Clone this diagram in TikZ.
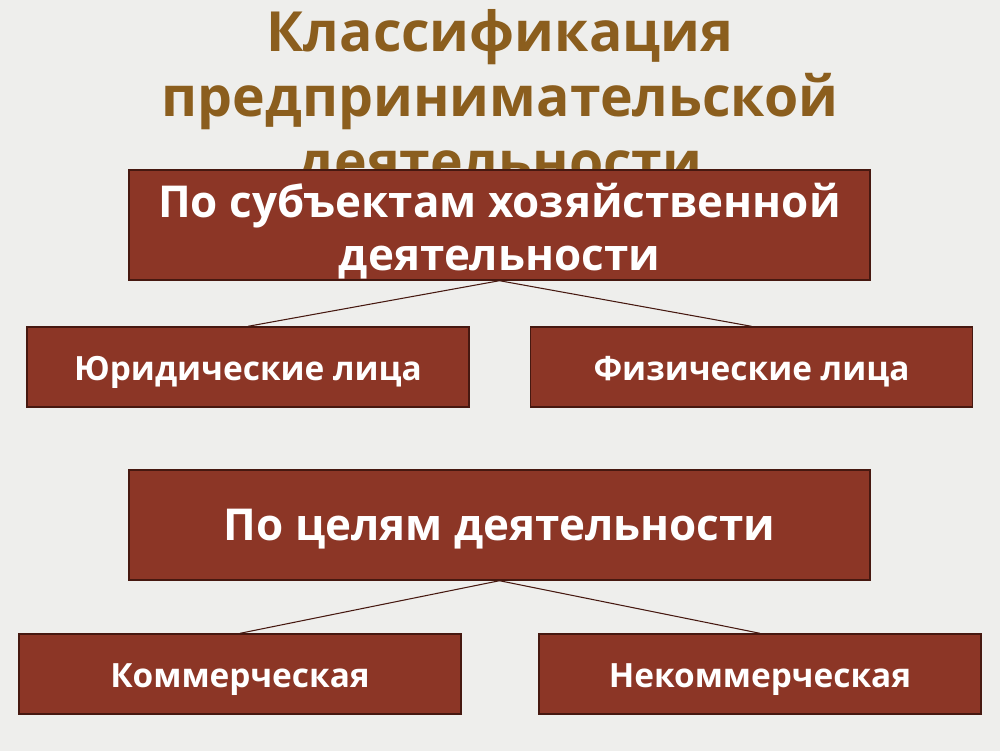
\documentclass[tikz,border=0pt]{standalone}
\usepackage{fontspec}
\setmainfont{Open Sans}
\usepackage{tikz}
\usepackage{xcolor}
\definecolor{boxfill}{RGB}{140,54,38}
\definecolor{boxline}{RGB}{70,24,16}
\definecolor{titlebrown}{RGB}{139,94,30}
\definecolor{bgin}{RGB}{238,238,236}
\definecolor{bgedge}{RGB}{216,215,194}
\definecolor{bgcorner}{RGB}{204,201,168}
\pgfdeclareradialshading{vignette}{\pgfpoint{0bp}{0bp}}{color(0bp)=(bgin); color(40bp)=(bgin); color(50bp)=(bgedge); color(71bp)=(bgcorner)}
\usetikzlibrary{positioning}

\begin{document}
\begin{tikzpicture}[
  bigbox/.style={draw=boxline, line width=0.8pt, fill=boxfill, text=white, font=\bfseries\fontsize{25}{30}\selectfont, align=center, minimum width=14.82cm, minimum height=2.2cm, inner sep=0pt},
  smallbox/.style={draw=boxline, line width=0.8pt, fill=boxfill, text=white, font=\bfseries\fontsize{19}{22}\selectfont, minimum width=8.84cm, minimum height=1.6cm, inner sep=0pt, text height=0.52cm, text depth=0pt},
  titleline/.style={anchor=base, text=titlebrown, font=\bfseries\fontsize{31.5}{36}\selectfont, inner sep=0pt},
  link/.style={draw=boxline, line width=0.6pt}
]
	% background
	\shade[shading=vignette] (0,0) rectangle (20,-15);
	\useasboundingbox (0,0) rectangle (20,-15);
	% title (partly hidden by the first box)
	\node[titleline] (title1) at (10,-1.02) {Классификация};
	\node[titleline] (title2) at (10,-2.32) {предпринимательской};
	\node[titleline] (title3) at (10,-3.62) {деятельности};
	% by subjects
	\node[bigbox, text height=1.8cm, text depth=0pt] (subj) at (9.99,-4.5) {По субъектам хозяйственной\\деятельности};
	\node[smallbox] (jur) at (4.96,-7.34) {Юридические лица};
	\node[smallbox] (phys) at (15.03,-7.34) {Физические лица};
	% by goals
	\node[bigbox, text height=0.6cm, text depth=0pt] (goal) at (9.99,-10.5) {По целям деятельности};
	\node[smallbox] (comm) at (4.8,-13.48) {Коммерческая};
	\node[smallbox] (noncomm) at (15.2,-13.48) {Некоммерческая};
	% links
	\draw[link] (subj.south) -- (jur.north);
	\draw[link] (subj.south) -- (phys.north);
	\draw[link] (goal.south) -- (comm.north);
	\draw[link] (goal.south) -- (noncomm.north);
\end{tikzpicture}
\end{document}
